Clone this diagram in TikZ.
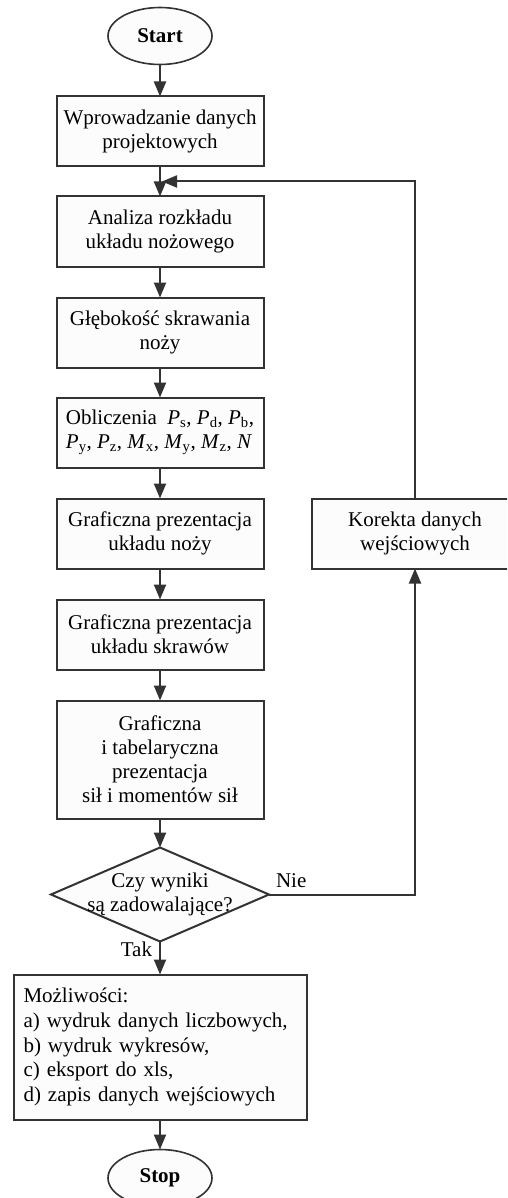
\documentclass[tikz,border=0pt]{standalone}
\usepackage{fontspec}
\setmainfont{Liberation Serif}
\usetikzlibrary{shapes.geometric,arrows.meta,positioning}
\definecolor{linegray}{RGB}{51, 51, 51}
\definecolor{boxfill}{RGB}{252, 252, 252}
\newcommand{\flowfont}{\fontsize{21}{24}\selectfont}
\tikzstyle{proc} = [rectangle, draw=linegray, line width=2pt, fill=boxfill, align=center, inner sep=0pt, outer sep=0pt, minimum width=207pt, minimum height=70pt]
\tikzstyle{term} = [ellipse, draw=linegray, line width=1.6pt, fill=boxfill, inner sep=0pt, outer sep=0pt, minimum width=104pt, minimum height=57pt, font=\flowfont\bfseries]
\tikzstyle{decision} = [diamond, draw=linegray, line width=2pt, fill=boxfill, inner sep=0pt, outer sep=0pt, minimum width=218pt, minimum height=94pt]
\tikzstyle{arr} = [draw=linegray, line width=2pt, -{Triangle[length=15pt, width=12pt]}]
\tikzstyle{textonly} = [draw=none, fill=none, inner sep=0pt]

\begin{document}
\begin{tikzpicture}[font=\flowfont]

\useasboundingbox (0,0) rectangle (507pt,-1198pt);
\clip (0,0) rectangle (507pt,-1198pt);

% nodes =============================

% main column
\node[term] (start) at (160pt,-36pt) {Start};
\node[proc, below=32pt of start] (b1) {Wprowadzanie danych\\projektowych};
\node[proc, below=30pt of b1] (b2) {Analiza rozkładu\\układu nożowego};
\node[proc, below=31pt of b2] (b3) {Głębokość skrawania\\noży};
\node[proc, below=30pt of b3, align=left] (b4) {Obliczenia\ \ \textit{P}\textsubscript{s}, \textit{P}\textsubscript{d}, \textit{P}\textsubscript{b},\\\textit{P}\textsubscript{y}, \textit{P}\textsubscript{z}, \textit{M}\textsubscript{x}, \textit{M}\textsubscript{y}, \textit{M}\textsubscript{z}, \textit{N}};
\node[proc, below=31pt of b4] (b5) {Graficzna prezentacja\\układu noży};
\node[proc, below=31pt of b5] (b6) {Graficzna prezentacja\\układu skrawów};
\node[proc, below=31pt of b6, minimum height=118pt] (b7) {Graficzna\\i tabelaryczna\\prezentacja\\sił i momentów sił};

% decision
\node[decision, below=29pt of b7, label={[textonly, align=center]center:Czy wyniki\\są zadowalające?}] (dec) {};

% output options
\node[proc, below=33pt of dec, minimum width=293pt, minimum height=145pt, text width=273pt, align=left, inner sep=10pt, font=\fontsize{21}{24.6}\selectfont] (opts) {Możliwości:\\a) wydruk danych liczbowych,\\b) wydruk wykresów,\\c) eksport do xls,\\d) zapis danych wejściowych};
\node[term, below=30pt of opts] (stop) {Stop};

% correction branch
\node[proc, right=48pt of b5] (corr) {Korekta danych\\wejściowych};
\coordinate[below=15pt of b1, xshift=2pt] (join);

% edges =============================

\draw[arr] (start) -- (b1);
\draw[arr] (b1) -- (b2);
\draw[arr] (b2) -- (b3);
\draw[arr] (b3) -- (b4);
\draw[arr] (b4) -- (b5);
\draw[arr] (b5) -- (b6);
\draw[arr] (b6) -- (b7);
\draw[arr] (b7) -- (dec);
\draw[arr] (dec) -- node[textonly, left, pos=0.25, xshift=-7pt] {Tak} (opts);
\draw[arr] (opts) -- (stop);

% loop back
\draw[arr] (dec.east) -| node[textonly, above right, pos=0, xshift=6pt, yshift=6pt] {Nie} (corr.south);
\draw[arr] (corr.north) |- (join);

\end{tikzpicture}
\end{document}
